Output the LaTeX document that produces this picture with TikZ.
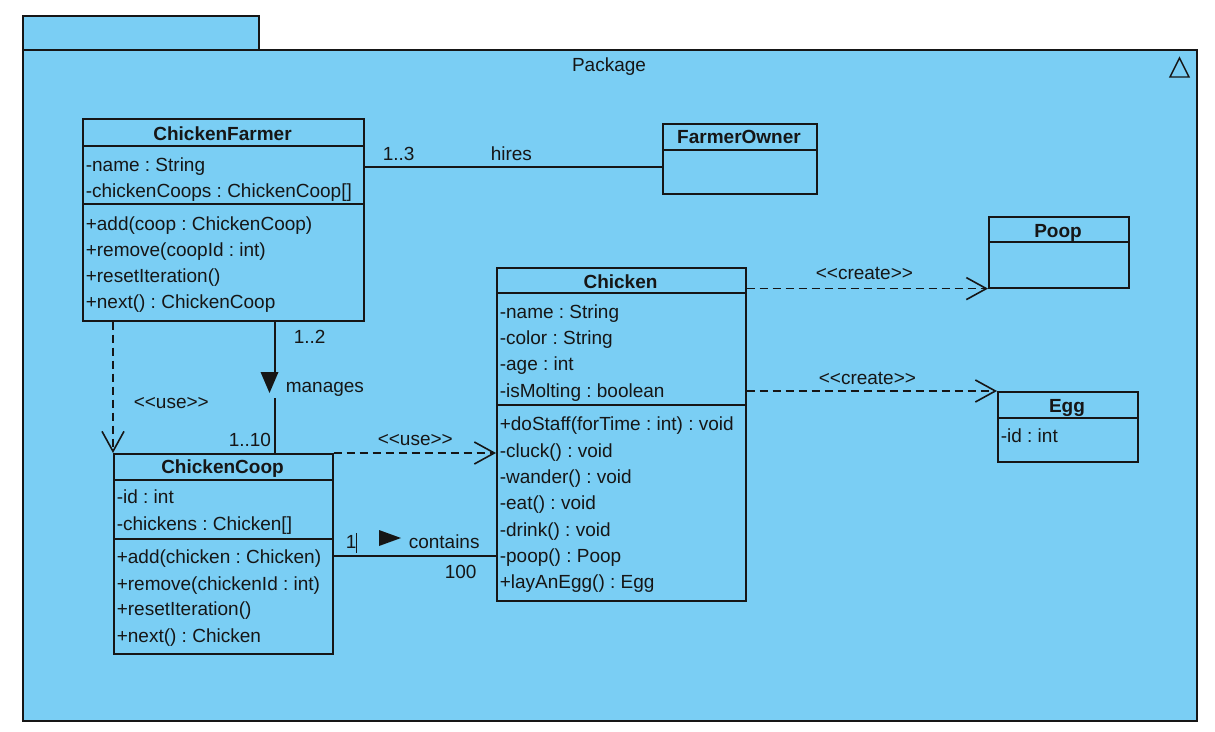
\documentclass[tikz,border=0pt]{standalone}
\usepackage{fontspec}
\setmainfont{Liberation Sans}[Ligatures=TeXOff]
\usetikzlibrary{arrows.meta,calc}
\definecolor{pkg}{RGB}{122,206,244}
\definecolor{ink}{RGB}{22,22,22}
\newcommand{\fs}{\fontsize{19}{22}\selectfont}
\frenchspacing
\begin{document}
\begin{tikzpicture}[x=1pt,y=-1pt,line width=1.6pt,
  cls/.style={draw=ink,fill=pkg,anchor=north west,inner sep=0pt},
  sepline/.style={draw=ink,line width=1.6pt},
  attr/.style={anchor=base west,inner sep=0pt,font=\fs,text=ink},
  ttl/.style={anchor=base,inner sep=0pt,font=\fs\bfseries,text=ink},
  lbl/.style={anchor=base west,inner sep=0pt,font=\fs,text=ink},
  dep/.style={draw=ink,dash pattern=on 8pt off 5pt,-{Straight Barb[length=20pt,width=22pt]}},
  assoc/.style={draw=ink}]
\useasboundingbox (0,0) rectangle (1215,731);
% package
\node[cls,minimum width=236pt,minimum height=34pt] (tab) at (22,15) {};
\node[cls,minimum width=1174pt,minimum height=671pt] (pkgbody) at (22,49) {};
\node[anchor=base,inner sep=0pt,font=\fs,text=ink] (pkgname) at (609,71) {Package};
\draw[ink,line width=1.4pt,line join=miter] (1170,77) -- (1189,77) -- (1179.5,58) -- cycle;

% ChickenFarmer
\node[cls,minimum width=281pt,minimum height=202pt] (farmer) at (82,118) {};
\draw[sepline] ($(farmer.north west)+(0,28)$) -- ($(farmer.north east)+(0,28)$);
\draw[sepline] ($(farmer.north west)+(0,86)$) -- ($(farmer.north east)+(0,86)$);
\node[ttl] (farmer-t) at (222.5,140) {ChickenFarmer};
\node[attr] (farmer-a1) at (85,171) {-name : String};
\node[attr] (farmer-a2) at (85,197) {-chickenCoops : ChickenCoop[]};
\node[attr] (farmer-m1) at (85,230) {+add(coop : ChickenCoop)};
\node[attr] (farmer-m2) at (85,256) {+remove(coopId : int)};
\node[attr] (farmer-m3) at (85,282) {+resetIteration()};
\node[attr] (farmer-m4) at (85,308) {+next() : ChickenCoop};

% FarmerOwner
\node[cls,minimum width=154pt,minimum height=70pt] (owner) at (662,123) {};
\draw[sepline] ($(owner.north west)+(0,27)$) -- ($(owner.north east)+(0,27)$);
\node[ttl] (owner-t) at (739,143) {FarmerOwner};

% Poop
\node[cls,minimum width=140pt,minimum height=71pt] (poop) at (988,216) {};
\draw[sepline] ($(poop.north west)+(0,26)$) -- ($(poop.north east)+(0,26)$);
\node[ttl] (poop-t) at (1058,237) {Poop};

% Egg
\node[cls,minimum width=140pt,minimum height=70pt] (egg) at (997,391) {};
\draw[sepline] ($(egg.north west)+(0,27)$) -- ($(egg.north east)+(0,27)$);
\node[ttl] (egg-t) at (1067,412) {Egg};
\node[attr] (egg-a1) at (1000,442) {-id : int};

% Chicken
\node[cls,minimum width=249pt,minimum height=333pt] (chicken) at (496,267) {};
\draw[sepline] ($(chicken.north west)+(0,26)$) -- ($(chicken.north east)+(0,26)$);
\draw[sepline] ($(chicken.north west)+(0,138)$) -- ($(chicken.north east)+(0,138)$);
\node[ttl] (chicken-t) at (620.5,288) {Chicken};
\node[attr] (chicken-a1) at (499,318) {-name : String};
\node[attr] (chicken-a2) at (499,344) {-color : String};
\node[attr] (chicken-a3) at (499,370) {-age : int};
\node[attr] (chicken-a4) at (499,397) {-isMolting : boolean};
\node[attr] (chicken-m1) at (499,430) {+doStaff(forTime : int) : void};
\node[attr] (chicken-m2) at (499,457) {-cluck() : void};
\node[attr] (chicken-m3) at (499,483) {-wander() : void};
\node[attr] (chicken-m4) at (499,509) {-eat() : void};
\node[attr] (chicken-m5) at (499,536) {-drink() : void};
\node[attr] (chicken-m6) at (499,562) {-poop() : Poop};
\node[attr] (chicken-m7) at (499,588) {+layAnEgg() : Egg};

% ChickenCoop
\node[cls,minimum width=219pt,minimum height=200pt] (coop) at (113,453) {};
\draw[sepline] ($(coop.north west)+(0,27)$) -- ($(coop.north east)+(0,27)$);
\draw[sepline] ($(coop.north west)+(0,86)$) -- ($(coop.north east)+(0,86)$);
\node[ttl] (coop-t) at (222.5,473) {ChickenCoop};
\node[attr] (coop-a1) at (116,503) {-id : int};
\node[attr] (coop-a2) at (116,530) {-chickens : Chicken[]};
\node[attr] (coop-m1) at (116,563) {+add(chicken : Chicken)};
\node[attr] (coop-m2) at (116,590) {+remove(chickenId : int)};
\node[attr] (coop-m3) at (116,615) {+resetIteration()};
\node[attr] (coop-m4) at (116,642) {+next() : Chicken};

% hires
\coordinate (hire) at (363,167);
\draw[assoc] (hire) -- (hire -| owner.west);
\node[lbl] (hire-m) at (382,160) {1..3};
\node[lbl] (hire-l) at (490,160) {hires};

% manages
\coordinate (mx) at (275,0);
\coordinate (mtop) at (275,372);
\coordinate (mbot) at (275,398);
\draw[assoc] (farmer.south -| mx) -- (mtop);
\draw[assoc] (mbot) -- (coop.north -| mx);
\fill[ink] (260.5,372) -- (278.5,372) -- (269.5,393) -- cycle;
\node[lbl] (man-m1) at (293,343) {1..2};
\node[lbl] (man-l) at (285,392) {manages};
\node[lbl] (man-m2) at (228,446) {1..10};

% use farmer -> coop
\draw[dep] (farmer.south -| coop.north west) -- (coop.north west);
\node[lbl] (use1) at (133,408) {<<use>>};

% use coop -> chicken
\draw[dep] (coop.north east) -- (coop.north east -| chicken.west);
\node[lbl] (use2) at (377,445) {<<use>>};

% contains
\coordinate (cont) at (332,556);
\draw[assoc] (cont) -- (cont -| chicken.west);
\node[lbl] (cont-m1) at (345,548) {1};
\draw[ink,line width=1pt] (356,533) -- (356,553);
\fill[ink] (379,530) -- (401,538) -- (379,546) -- cycle;
\node[lbl] (cont-l) at (408,548) {contains};
\node[lbl] (cont-m2) at (444,578) {100};

% create
\draw[dep] (poop.south west -| chicken.east) -- (poop.south west);
\node[lbl] (cr1) at (815,279) {<<create>>};
\draw[dep] (egg.north west -| chicken.east) -- (egg.north west);
\node[lbl] (cr2) at (818,384) {<<create>>};
\end{tikzpicture}
\end{document}
